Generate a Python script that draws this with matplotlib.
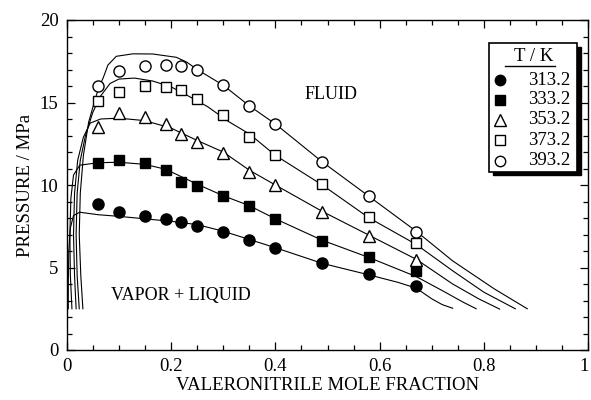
import matplotlib.pyplot as plt
from matplotlib.patches import Rectangle
from matplotlib.ticker import MultipleLocator, FixedFormatter, FixedLocator

plt.rcParams['font.family'] = ['Liberation Serif', 'DejaVu Serif']

# === Experimental points (valeronitrile mole fraction, pressure / MPa) ===
x_exp = [0.06, 0.10, 0.15, 0.19, 0.22, 0.25, 0.30, 0.35, 0.40, 0.49, 0.58, 0.67]

p_313 = [8.83, 8.38, 8.14, 7.96, 7.74, 7.52, 7.17, 6.67, 6.20, 5.29, 4.59, 3.90]
p_333 = [11.31, 11.52, 11.33, 10.91, 10.20, 9.96, 9.33, 8.73, 7.92, 6.63, 5.66, 4.80]
p_353 = [13.53, 14.34, 14.10, 13.67, 13.07, 12.63, 11.92, 10.80, 9.98, 8.38, 6.91, 5.45]
p_373 = [15.11, 15.65, 16.00, 15.92, 15.76, 15.19, 14.24, 12.93, 11.80, 10.04, 8.04, 6.46]
p_393 = [16.00, 16.90, 17.20, 17.30, 17.20, 17.00, 16.06, 14.80, 13.70, 11.40, 9.33, 7.17]

# === Calculated phase envelopes ===
cx_313 = [0.003, 0.003, 0.004, 0.007, 0.013, 0.025, 0.06, 0.10, 0.15, 0.20, 0.25,
          0.30, 0.35, 0.40, 0.49, 0.58, 0.635, 0.67, 0.70, 0.72, 0.74]
cy_313 = [2.5, 4.0, 6.0, 7.4, 8.15, 8.35, 8.2, 8.1, 7.95, 7.8, 7.6,
          7.2, 6.7, 6.2, 5.25, 4.55, 4.1, 3.75, 3.1, 2.75, 2.53]

cx_333 = [0.010, 0.007, 0.006, 0.008, 0.013, 0.025, 0.06, 0.10, 0.15, 0.19, 0.22,
          0.25, 0.30, 0.35, 0.40, 0.49, 0.58, 0.67, 0.72, 0.76, 0.785]
cy_333 = [2.5, 4.5, 7.0, 9.2, 10.6, 11.2, 11.35, 11.38, 11.25, 10.95, 10.5,
          10.05, 9.35, 8.75, 7.95, 6.65, 5.6, 4.45, 3.6, 2.9, 2.5]

cx_353 = [0.018, 0.015, 0.013, 0.015, 0.021, 0.032, 0.045, 0.065, 0.10, 0.15, 0.20,
          0.25, 0.30, 0.35, 0.40, 0.49, 0.58, 0.67, 0.74, 0.79, 0.83]
cy_353 = [2.5, 4.5, 7.0, 9.5, 11.5, 12.9, 13.75, 14.0, 14.05, 13.9, 13.45,
          12.7, 12.0, 10.9, 10.0, 8.4, 6.95, 5.5, 4.0, 3.1, 2.48]

cx_373 = [0.024, 0.020, 0.018, 0.020, 0.026, 0.036, 0.050, 0.064, 0.083, 0.10, 0.13,
          0.165, 0.20, 0.23, 0.27, 0.31, 0.35, 0.40, 0.49, 0.58, 0.67, 0.74, 0.80, 0.86]
cy_373 = [2.5, 4.5, 7.0, 9.5, 11.5, 13.0, 14.4, 15.35, 16.15, 16.42, 16.48,
          16.3, 15.95, 15.45, 14.75, 13.85, 13.1, 11.8, 10.0, 8.0, 6.4, 4.8, 3.5, 2.5]

cx_393 = [0.031, 0.027, 0.024, 0.026, 0.032, 0.042, 0.054, 0.062, 0.070, 0.079, 0.095,
          0.127, 0.165, 0.21, 0.23, 0.25, 0.30, 0.35, 0.40, 0.49, 0.58, 0.67, 0.74,
          0.82, 0.883]
cy_393 = [2.5, 4.5, 7.0, 9.5, 11.8, 13.8, 15.15, 15.95, 16.5, 17.27, 17.8,
          17.95, 17.94, 17.74, 17.45, 17.0, 16.05, 14.8, 13.7, 11.4, 9.3, 7.2, 5.4,
          3.7, 2.5]

temps = ["313.2", "333.2", "353.2", "373.2", "393.2"]
markers = ['o', 's', '^', 's', 'o']
faces = ['black', 'black', 'white', 'white', 'white']
sizes = [8, 7.5, 8.5, 7.5, 8]

x_ticks = [0, 0.2, 0.4, 0.6, 0.8, 1]
x_ticklabels = ["0", "0.2", "0.4", "0.6", "0.8", "1"]
y_ticks = [0, 5, 10, 15, 20]

fig = plt.figure(figsize=(5.91, 4.0), dpi=100)
ax = fig.add_axes([0.1129, 0.125, 0.8825, 0.825])

curves = [(cx_313, cy_313), (cx_333, cy_333), (cx_353, cy_353),
          (cx_373, cy_373), (cx_393, cy_393)]
for cx, cy in curves:
    ax.plot(cx, cy, color='black', lw=0.8, zorder=2)

points = [p_313, p_333, p_353, p_373, p_393]
for p, m, fc, ms in zip(points, markers, faces, sizes):
    ax.plot(x_exp, p, linestyle='none', marker=m, ms=ms, mfc=fc,
            mec='black', mew=1.0, zorder=3)

ax.set_xlim(0, 1)
ax.set_ylim(0, 20)
ax.xaxis.set_major_locator(FixedLocator(x_ticks))
ax.xaxis.set_major_formatter(FixedFormatter(x_ticklabels))
ax.xaxis.set_minor_locator(MultipleLocator(0.05))
ax.yaxis.set_major_locator(FixedLocator(y_ticks))
ax.yaxis.set_minor_locator(MultipleLocator(1))
ax.tick_params(which='both', direction='in', top=True, right=True,
               labelsize=13.5, width=0.9)
ax.tick_params(which='major', length=6, pad=6)
ax.tick_params(which='minor', length=3.5)
for s in ax.spines.values():
    s.set_linewidth(1.0)
ax.get_xticklabels()[-1].set_horizontalalignment('right')

ax.set_xlabel("VALERONITRILE MOLE FRACTION", fontsize=13.5, labelpad=1)
ax.set_ylabel("PRESSURE / MPa", fontsize=13.5, labelpad=4)

ax.text(0.506, 15.5, "FLUID", fontsize=13, ha='center', va='center')
ax.text(0.219, 3.33, "VAPOR + LIQUID", fontsize=13, ha='center', va='center')

# === Legend box with drop shadow ===
tr = ax.transAxes
ax.add_patch(Rectangle((0.8166, 0.530), 0.1685, 0.389, transform=tr,
                       facecolor='black', edgecolor='black', zorder=5))
ax.add_patch(Rectangle((0.809, 0.540), 0.1685, 0.389, transform=tr,
                       facecolor='white', edgecolor='black', lw=1.2, zorder=6))
ax.text(0.8945, 0.889, "T / K", transform=tr, fontsize=13.5,
        ha='center', va='center', zorder=7)
ax.plot([0.841, 0.937], [0.8615, 0.8615], transform=tr, color='black',
        lw=1.0, zorder=7)
rows = [0.818, 0.758, 0.697, 0.636, 0.573]
for t, m, fc, ms, ry in zip(temps, markers, faces, sizes, rows):
    ax.plot([0.831], [ry], transform=tr, linestyle='none', marker=m,
            ms=ms - 0.5, mfc=fc, mec='black', mew=1.0, zorder=7)
    ax.text(0.9656, ry, t, transform=tr, fontsize=13.5, ha='right',
            va='center', zorder=7)

fig.savefig("out.png", dpi=100)
